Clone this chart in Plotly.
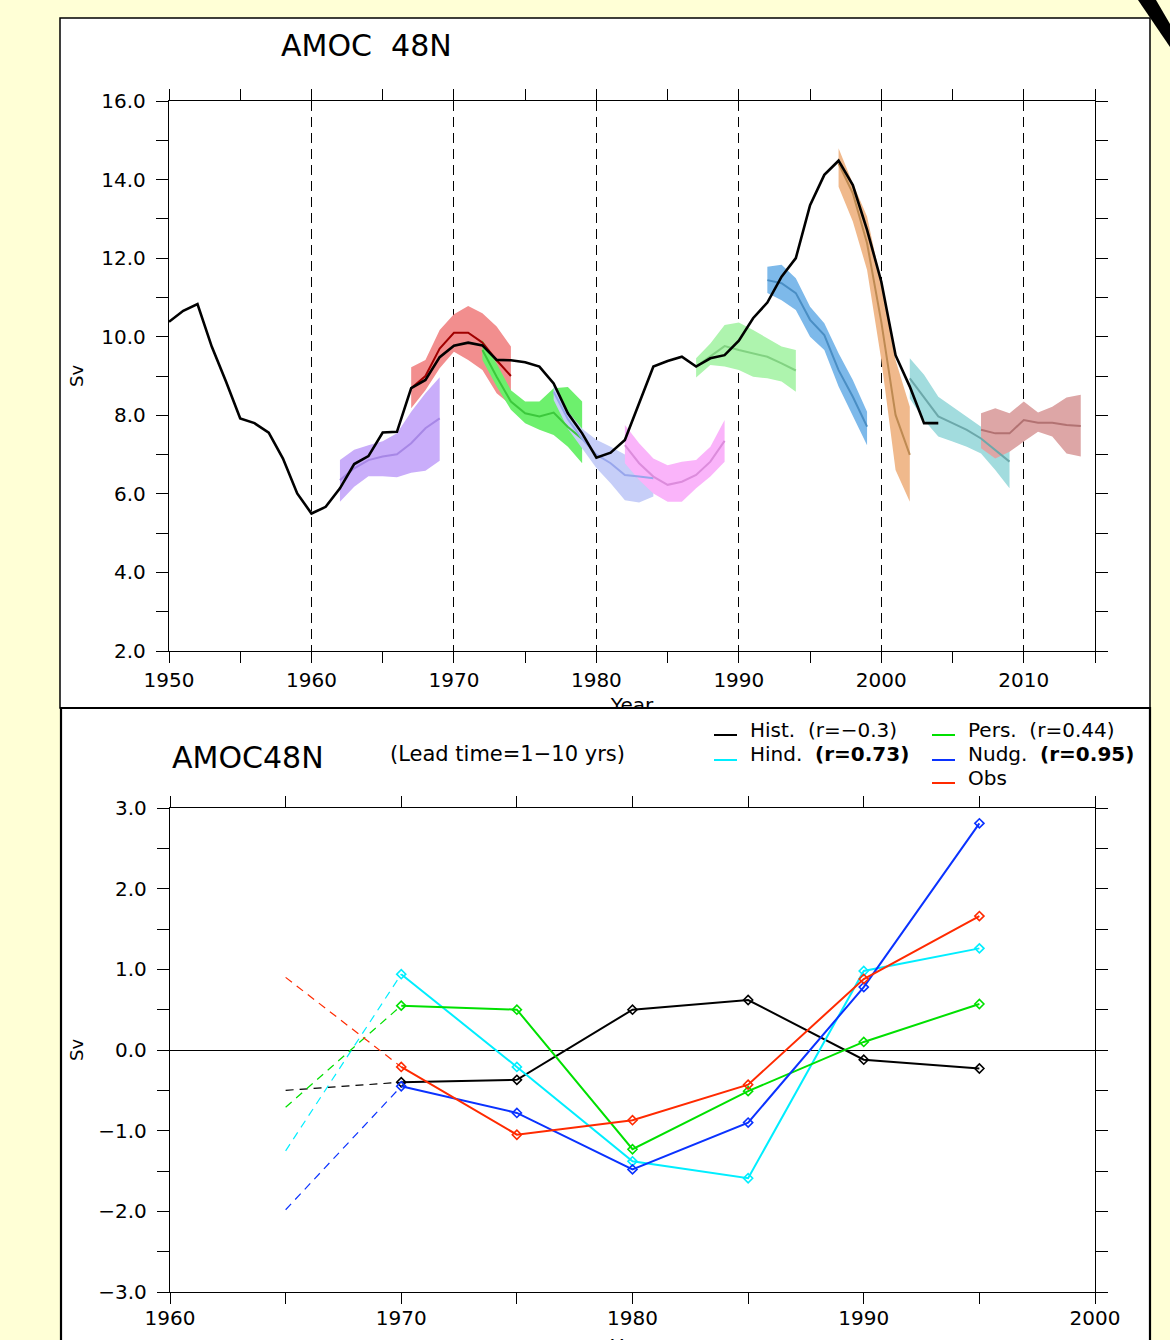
import plotly.graph_objects as go

W, H = 1170, 1340

# ---------------- top panel data (AMOC 48N, Sv) ----------------
hist_years = list(range(1950, 2005))
hist_sv = [10.38, 10.66, 10.83, 9.75, 8.86, 7.92, 7.80, 7.56, 6.90, 6.01,
           5.50, 5.67, 6.14, 6.76, 6.96, 7.56, 7.58, 8.69, 8.90, 9.48,
           9.77, 9.85, 9.78, 9.41, 9.40, 9.35, 9.24, 8.81, 8.05, 7.54,
           6.92, 7.05, 7.37, 8.30, 9.24, 9.38, 9.49, 9.24, 9.45, 9.53,
           9.90, 10.47, 10.87, 11.53, 12.00, 13.35, 14.12, 14.48, 13.86, 12.72,
           11.40, 9.53, 8.73, 7.80, 7.80]

forecast_starts = [1962, 1967, 1972, 1977, 1982, 1987, 1992, 1997, 2002, 2007]

fc1962_mid = [6.35, 6.65, 6.86, 6.95, 7.01, 7.29, 7.67, 7.92]
fc1962_hi = [6.86, 7.12, 7.24, 7.34, 7.54, 8.09, 8.56, 8.97]
fc1962_lo = [5.80, 6.18, 6.45, 6.45, 6.42, 6.54, 6.59, 6.84]

fc1967_mid = [8.69, 9.00, 9.70, 10.10, 10.10, 9.85, 9.40, 9.00]
fc1967_hi = [9.22, 9.41, 10.17, 10.57, 10.78, 10.60, 10.26, 9.75]
fc1967_lo = [8.18, 8.64, 9.20, 9.62, 9.41, 9.15, 8.56, 8.26]

fc1972_mid = [9.66, 8.98, 8.35, 8.05, 7.97, 8.07, 7.70, 7.40]
fc1972_hi = [9.92, 9.32, 8.64, 8.35, 8.35, 8.69, 8.72, 8.35]
fc1972_lo = [9.41, 8.73, 8.14, 7.80, 7.63, 7.50, 7.20, 6.78]

fc1977_mid = [8.60, 7.90, 7.40, 7.00, 6.78, 6.48, 6.44, 6.40]
fc1977_hi = [8.77, 8.10, 7.66, 7.38, 7.20, 7.00, 6.85, 6.70]
fc1977_lo = [8.39, 7.66, 7.15, 6.66, 6.27, 5.84, 5.78, 5.93]

fc1982_mid = [7.24, 6.78, 6.44, 6.23, 6.31, 6.48, 6.82, 7.35]
fc1982_hi = [7.75, 7.29, 6.90, 6.73, 6.82, 6.86, 7.20, 7.88]
fc1982_lo = [6.78, 6.35, 6.01, 5.80, 5.80, 6.14, 6.44, 6.82]

fc1987_mid = [9.24, 9.49, 9.76, 9.66, 9.58, 9.49, 9.32, 9.14]
fc1987_hi = [9.45, 9.83, 10.30, 10.36, 10.17, 9.96, 9.75, 9.66]
fc1987_lo = [8.96, 9.28, 9.24, 9.15, 8.98, 8.94, 8.86, 8.60]

fc1992_mid = [11.44, 11.36, 11.11, 10.43, 10.04, 9.15, 8.47, 7.71]
fc1992_hi = [11.78, 11.83, 11.49, 10.76, 10.34, 9.58, 8.90, 8.09]
fc1992_lo = [11.11, 10.93, 10.68, 10.00, 9.66, 8.73, 7.97, 7.24]

fc1997_mid = [14.41, 13.65, 12.38, 10.38, 8.01, 6.99]
fc1997_hi = [14.80, 13.90, 13.06, 11.36, 9.41, 8.22]
fc1997_lo = [13.82, 12.93, 11.70, 9.41, 6.61, 5.80]

fc2002_mid = [8.94, 8.47, 7.97, 7.80, 7.63, 7.41, 7.12, 6.82]
fc2002_hi = [9.45, 9.03, 8.47, 8.22, 7.97, 7.71, 7.50, 7.30]
fc2002_lo = [8.43, 7.88, 7.46, 7.33, 7.20, 7.03, 6.61, 6.14]

fc2007_mid = [7.63, 7.54, 7.54, 7.88, 7.81, 7.81, 7.75, 7.73]
fc2007_hi = [8.05, 8.18, 8.05, 8.35, 8.07, 8.22, 8.45, 8.52]
fc2007_lo = [7.16, 6.90, 7.07, 7.33, 7.58, 7.46, 7.03, 6.95]

band_fill = ["#C9ADFA", "#F28E8E", "#6DF06D", "#C6CEF8", "#FAB4FA",
             "#AEF4AE", "#7DB9EA", "#F0B98C", "#A2DCDE", "#DDA6A6"]
band_line = ["#A787E6", "#A00000", "#3CC83C", "#98A6EC", "#DC8CDC",
             "#82D282", "#4A8EC4", "#BE8A52", "#6CA8AA", "#B27272"]

# ---------------- bottom panel data (lead time 1-10 yrs anomalies) ----------------
lead_years = [1970, 1975, 1980, 1985, 1990, 1995]
ext_years = [1965, 1970]
hist_anom = [-0.40, -0.37, 0.50, 0.62, -0.12, -0.23]
hind_anom = [0.94, -0.21, -1.38, -1.59, 0.98, 1.26]
pers_anom = [0.55, 0.50, -1.23, -0.51, 0.10, 0.57]
nudg_anom = [-0.45, -0.78, -1.48, -0.90, 0.78, 2.81]
obs_anom = [-0.21, -1.05, -0.87, -0.43, 0.88, 1.66]
ext_start = {"Hist": -0.50, "Hind": -1.25, "Pers": -0.71, "Nudg": -1.98, "Obs": 0.90}

series_names = ["Hist", "Hind", "Pers", "Nudg", "Obs"]
series_colors = ["#000000", "#00EEFF", "#00E000", "#0A32FF", "#FF2A00"]
series_values = [hist_anom, hind_anom, pers_anom, nudg_anom, obs_anom]

legend_labels = ["Hist.  (r=\u22120.3)", "Hind.  <b>(r=0.73)</b>", "Pers.  (r=0.44)",
                 "Nudg.  <b>(r=0.95)</b>", "Obs"]

# ---------------- helpers ----------------
def px(x):
    return x / W

def py(y):
    return 1 - y / H

FONT = "DejaVu Sans"

fig = go.Figure()

# bands
fc_mid = [fc1962_mid, fc1967_mid, fc1972_mid, fc1977_mid, fc1982_mid,
          fc1987_mid, fc1992_mid, fc1997_mid, fc2002_mid, fc2007_mid]
fc_hi = [fc1962_hi, fc1967_hi, fc1972_hi, fc1977_hi, fc1982_hi,
         fc1987_hi, fc1992_hi, fc1997_hi, fc2002_hi, fc2007_hi]
fc_lo = [fc1962_lo, fc1967_lo, fc1972_lo, fc1977_lo, fc1982_lo,
         fc1987_lo, fc1992_lo, fc1997_lo, fc2002_lo, fc2007_lo]

for start, hi, lo, col in zip(forecast_starts, fc_hi, fc_lo, band_fill):
    yrs = [start + i for i in range(len(hi))]
    fig.add_trace(go.Scatter(x=yrs + yrs[::-1], y=hi + lo[::-1], fill="toself",
                             fillcolor=col, mode="lines", line=dict(width=0, color=col),
                             showlegend=False, hoverinfo="skip", xaxis="x", yaxis="y"))
for start, mid, col in zip(forecast_starts, fc_mid, band_line):
    yrs = [start + i for i in range(len(mid))]
    fig.add_trace(go.Scatter(x=yrs, y=mid, mode="lines", line=dict(width=2, color=col),
                             showlegend=False, xaxis="x", yaxis="y"))
fig.add_trace(go.Scatter(x=hist_years, y=hist_sv, mode="lines",
                         line=dict(width=2.6, color="black"), showlegend=False,
                         xaxis="x", yaxis="y"))

# bottom panel lines
for name, col, vals in zip(series_names, series_colors, series_values):
    fig.add_trace(go.Scatter(x=ext_years, y=[ext_start[name], vals[0]], mode="lines",
                             line=dict(width=1.2, color=col, dash="8px,6px"),
                             showlegend=False, xaxis="x2", yaxis="y4"))
for name, col, vals in zip(series_names, series_colors, series_values):
    fig.add_trace(go.Scatter(x=lead_years, y=vals, mode="lines+markers", name=name,
                             line=dict(width=2, color=col),
                             marker=dict(symbol="diamond-open", size=7, color=col,
                                         line=dict(width=1.6, color=col)),
                             showlegend=False, xaxis="x2", yaxis="y4"))

# clipped "Year" title of the top panel (cut by the lower panel)
fig.add_trace(go.Scatter(x=[632], y=[707], mode="text", text=["Year"],
                         textfont=dict(family=FONT, size=20, color="black"),
                         cliponaxis=True, showlegend=False, hoverinfo="skip",
                         xaxis="x3", yaxis="y6"))

tickfont = dict(family=FONT, size=20, color="black")
axcommon = dict(showline=True, linecolor="black", linewidth=1.3, mirror="ticks",
                ticks="outside", tickcolor="black", tickwidth=1.3,
                tickfont=tickfont, zeroline=False, automargin=False)

layout = dict(
    width=W, height=H, autosize=False,
    margin=dict(l=0, r=0, t=0, b=0, pad=0, autoexpand=False),
    paper_bgcolor="#FFFFD6", plot_bgcolor="rgba(0,0,0,0)",
    showlegend=False,
    font=dict(family=FONT, color="black"),
    xaxis=dict(domain=[px(169), px(1095)], range=[1950, 2015], anchor="y",
               tickmode="linear", tick0=1950, dtick=10, ticklen=11,
               ticklabelstandoff=0,
               showgrid=True, gridcolor="black", gridwidth=1, griddash="10px,6px",
               minor=dict(tickmode="linear", tick0=1950, dtick=5, ticks="outside",
                          ticklen=11, tickcolor="black", tickwidth=1.3, showgrid=False),
               **axcommon),
    yaxis=dict(domain=[py(651), py(101)], range=[2, 16], anchor="x",
               tickmode="linear", tick0=2, dtick=2, tickformat=".1f", ticklen=12,
               ticklabelstandoff=6, showgrid=False,
               minor=dict(tickmode="linear", tick0=2, dtick=1, ticks="outside",
                          ticklen=12, tickcolor="black", tickwidth=1.3, showgrid=False),
               **axcommon),
    yaxis3=dict(overlaying="y", range=[2, 16], anchor="x", tickmode="array",
                tickvals=[2.5, 5, 7.5, 10, 12.5, 15], showticklabels=False, ticks="",
                showgrid=True, gridcolor="black", gridwidth=1, griddash="10px,6px",
                showline=False, zeroline=False, automargin=False),
    xaxis2=dict(domain=[px(170), px(1095)], range=[1960, 2000], anchor="y4",
                tickmode="linear", tick0=1960, dtick=10, ticklen=11,
                ticklabelstandoff=-3, showgrid=False,
                minor=dict(tickmode="linear", tick0=1960, dtick=5, ticks="outside",
                           ticklen=11, tickcolor="black", tickwidth=1.3, showgrid=False),
                **axcommon),
    yaxis4=dict(domain=[py(1292), py(808)], range=[-3, 3], anchor="x2",
                tickmode="linear", tick0=0, dtick=1, tickformat=".1f", ticklen=12,
                ticklabelstandoff=6, showgrid=False,
                minor=dict(tickmode="linear", tick0=0, dtick=0.5, ticks="outside",
                           ticklen=12, tickcolor="black", tickwidth=1.3, showgrid=False),
                **{k: v for k, v in axcommon.items() if k != "zeroline"},
                zeroline=True, zerolinecolor="black", zerolinewidth=1.3),
    xaxis3=dict(domain=[0, 1], range=[0, W], anchor="y6", visible=False, automargin=False),
    yaxis6=dict(domain=[py(708), py(640)], range=[708, 640], anchor="x3", visible=False,
                automargin=False),
)

shapes = [
    dict(type="rect", xref="paper", yref="paper", x0=px(60), x1=px(1150),
         y0=py(708), y1=py(18), fillcolor="white", line=dict(color="black", width=1.5),
         layer="below"),
    dict(type="rect", xref="paper", yref="paper", x0=px(61), x1=px(1150),
         y0=py(1345), y1=py(708), fillcolor="white", line=dict(color="black", width=2.2),
         layer="below"),
    dict(type="path", xref="paper", yref="paper",
         path=f"M {px(1138)},{py(0)} L {px(1156)},{py(0)} L {px(1170)},{py(24)} L {px(1170)},{py(47)} Z",
         fillcolor="black", line=dict(width=0), layer="above"),
]

# legend swatches
leg_pos = [(714, 735, 748, 730), (714, 760, 748, 754), (932, 735, 966, 730),
           (932, 760, 966, 754), (932, 783, 966, 778)]
annotations = []
for (lx, ly, tx, ty), col, lab in zip(leg_pos, series_colors, legend_labels):
    shapes.append(dict(type="line", xref="paper", yref="paper", x0=px(lx), x1=px(lx + 23),
                       y0=py(ly), y1=py(ly), line=dict(color=col, width=2)))
    annotations.append(dict(text=lab, x=px(tx), y=py(ty), xref="paper", yref="paper",
                            xanchor="left", yanchor="middle", showarrow=False,
                            font=dict(family=FONT, size=20, color="black")))

annotations += [
    dict(text="AMOC  48N", x=px(366), y=py(45), xref="paper", yref="paper",
         xanchor="center", yanchor="middle", showarrow=False,
         font=dict(family=FONT, size=30, color="black")),
    dict(text="Sv", x=px(76), y=py(376), xref="paper", yref="paper", textangle=-90,
         xanchor="center", yanchor="middle", showarrow=False,
         font=dict(family=FONT, size=18, color="black")),
    dict(text="AMOC48N", x=px(170), y=py(757), xref="paper", yref="paper",
         xanchor="left", yanchor="middle", showarrow=False,
         font=dict(family=FONT, size=30, color="black")),
    dict(text="(Lead time=1\u221210 yrs)", x=px(388), y=py(754), xref="paper", yref="paper",
         xanchor="left", yanchor="middle", showarrow=False,
         font=dict(family=FONT, size=21, color="black")),
    dict(text="Sv", x=px(76), y=py(1050), xref="paper", yref="paper", textangle=-90,
         xanchor="center", yanchor="middle", showarrow=False,
         font=dict(family=FONT, size=18, color="black")),
    dict(text="Year", x=px(632), y=py(1346), xref="paper", yref="paper",
         xanchor="center", yanchor="middle", showarrow=False,
         font=dict(family=FONT, size=20, color="black")),
]

layout["shapes"] = shapes
layout["annotations"] = annotations
fig.update_layout(**layout)

fig.write_html("out.html")
